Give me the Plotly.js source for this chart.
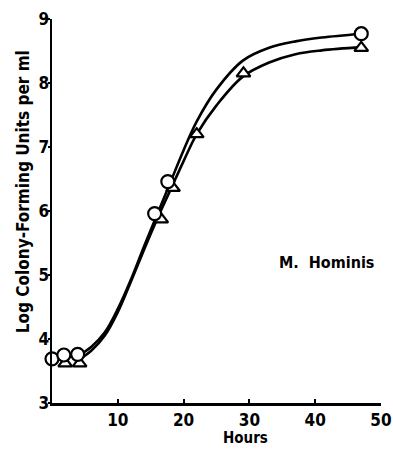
<!DOCTYPE html>
<html><head><meta charset="utf-8">
<script src="https://cdn.plot.ly/plotly-3.0.1.min.js"></script>
<style>html,body{margin:0;padding:0;background:#fff}#c{width:393px;height:449px}</style>
</head><body><div id="c"></div>
<script>
// Measured points
const circleHours = [0, 1.8, 3.9, 15.6, 17.6, 47];
const circleLogCFU = [3.69, 3.75, 3.76, 5.96, 6.46, 8.77];
const triangleHours = [2, 4.2, 16.6, 18.4, 22, 29.1, 47];
const triangleLogCFU = [3.62, 3.62, 5.87, 6.36, 7.2, 8.15, 8.55];
// Smooth fitted curves
const circleCurveHours = [4, 6, 8, 10, 12, 14, 16, 18, 20, 22, 25, 29, 33, 37, 41, 47];
const circleCurveLog = [3.74, 3.88, 4.1, 4.47, 4.93, 5.45, 5.95, 6.45, 6.95, 7.4, 7.9, 8.35, 8.55, 8.65, 8.71, 8.77];
const triangleCurveHours = [4, 6, 8, 10, 12, 14, 16, 18, 20, 22, 25, 29, 33, 37, 41, 47];
const triangleCurveLog = [3.67, 3.82, 4.05, 4.42, 4.9, 5.4, 5.88, 6.33, 6.78, 7.2, 7.65, 8.1, 8.32, 8.45, 8.51, 8.56];
const xTicks = [10, 20, 30, 40, 50];
const yTicks = [3, 4, 5, 6, 7, 8, 9];

const F = '"DejaVu Sans Condensed", "Liberation Sans Narrow", sans-serif';
const traces = [
  {x: circleCurveHours, y: circleCurveLog, mode: 'lines', line: {shape: 'spline', color: '#000', width: 2.6}, hoverinfo: 'skip'},
  {x: triangleCurveHours, y: triangleCurveLog, mode: 'lines', line: {shape: 'spline', color: '#000', width: 2.6}, hoverinfo: 'skip'},
  {x: triangleHours, y: triangleLogCFU, mode: 'markers', cliponaxis: false,
   marker: {symbol: 'triangle-up', size: 12, color: '#fff', line: {color: '#000', width: 2.2}}},
  {x: circleHours, y: circleLogCFU, mode: 'markers', cliponaxis: false,
   marker: {symbol: 'circle', size: 13, color: '#fff', line: {color: '#000', width: 2.2}}}
];
const layout = {
  width: 393, height: 449, showlegend: false,
  paper_bgcolor: '#fff', plot_bgcolor: '#fff',
  margin: {l: 52, r: 12, t: 19, b: 46},
  font: {family: F, color: '#000'},
  xaxis: {range: [0, 50], tickvals: xTicks, ticktext: xTicks.map(v => '<b>' + v + '</b>'), showgrid: false, zeroline: false,
    showline: true, linecolor: '#000', linewidth: 2.5, ticks: 'inside', ticklen: 4, tickwidth: 2, tickcolor: '#000',
    tickfont: {family: F, size: 17, color: '#000'}},
  yaxis: {range: [3, 9], tickvals: yTicks, ticktext: yTicks.map(v => '<b>' + v + '</b>'), showgrid: false, zeroline: false,
    showline: true, linecolor: '#000', linewidth: 2.5, ticks: 'outside', ticklen: 2, tickwidth: 2, tickcolor: '#000',
    ticklabelstandoff: -5,
    tickfont: {family: F, size: 17, color: '#000'}},
  annotations: [
    {x: 0.985, y: 0.365, xref: 'paper', yref: 'paper', xanchor: 'right', yanchor: 'middle', showarrow: false,
     text: '<b>M.  Hominis</b>', font: {family: F, size: 16, color: '#000'}},
    {x: 0.587, y: -0.09, xref: 'paper', yref: 'paper', xanchor: 'center', yanchor: 'middle', showarrow: false,
     text: '<b>Hours</b>', font: {family: F, size: 15, color: '#000'}},
    {x: -0.09, y: 0.55, xref: 'paper', yref: 'paper', xanchor: 'center', yanchor: 'middle', showarrow: false, textangle: -90,
     text: '<b>Log Colony-Forming Units per ml</b>', font: {family: F, size: 17, color: '#000'}}
  ]
};
Plotly.newPlot('c', traces, layout, {displayModeBar: false, staticPlot: true});
</script></body></html>
